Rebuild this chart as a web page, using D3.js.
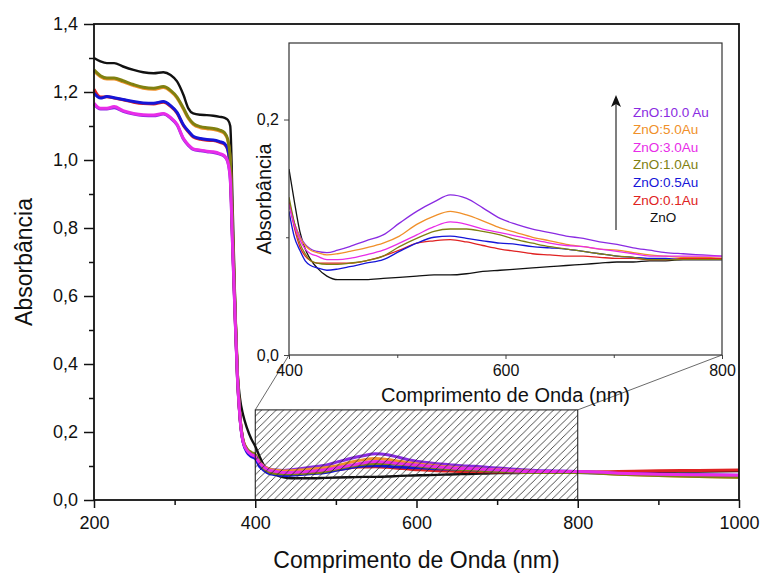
<!DOCTYPE html>
<html>
<head>
<meta charset="utf-8">
<script src="https://cdn.jsdelivr.net/npm/d3@7"></script>
<style>
  body { margin: 0; background: #fff; }
  text { font-family: "Liberation Sans", Arial, sans-serif; fill: #111; }
</style>
</head>
<body>
<svg id="chart" width="761" height="574"></svg>
<script>
// wavelength grid (nm)
const wl = [200, 208, 216, 225, 236, 249, 261, 274, 286, 295, 303, 311, 317, 323, 332, 340, 348, 356, 362, 366,
  369, 372, 375, 378, 381, 385, 390, 395, 400, 405, 410, 415, 420, 426, 435, 445, 456, 471, 487, 502,
  518, 534, 549, 564, 579, 595, 610, 625, 641, 656, 672, 687, 703, 718, 733, 748, 764, 782, 800, 850,
  900, 950, 1000];

// absorbance per sample
const zno = [1.300, 1.290, 1.285, 1.285, 1.275, 1.265, 1.258, 1.255, 1.258, 1.250, 1.231, 1.191, 1.152, 1.137, 1.133, 1.132, 1.130, 1.127, 1.124, 1.118,
  1.100, 0.860, 0.590, 0.380, 0.300, 0.250, 0.210, 0.180, 0.158, 0.130, 0.105, 0.090, 0.081, 0.074, 0.067, 0.064, 0.064, 0.064, 0.065, 0.066,
  0.067, 0.068, 0.068, 0.069, 0.071, 0.072, 0.073, 0.074, 0.075, 0.076, 0.077, 0.078, 0.079, 0.079, 0.080, 0.080, 0.081, 0.081, 0.081, 0.082,
  0.083, 0.084, 0.085];
const au01 = [1.208, 1.185, 1.186, 1.182, 1.177, 1.170, 1.166, 1.165, 1.170, 1.158, 1.138, 1.101, 1.083, 1.068, 1.061, 1.058, 1.057, 1.052, 1.046, 1.028,
  0.970, 0.755, 0.545, 0.358, 0.245, 0.172, 0.145, 0.135, 0.130, 0.108, 0.092, 0.084, 0.080, 0.078, 0.078, 0.078, 0.078, 0.080, 0.084, 0.089,
  0.095, 0.097, 0.098, 0.096, 0.093, 0.090, 0.088, 0.086, 0.085, 0.084, 0.084, 0.083, 0.082, 0.082, 0.081, 0.081, 0.082, 0.082, 0.082, 0.084,
  0.086, 0.087, 0.088];
const au05 = [1.196, 1.182, 1.187, 1.183, 1.178, 1.172, 1.168, 1.167, 1.172, 1.160, 1.140, 1.103, 1.085, 1.070, 1.063, 1.060, 1.059, 1.054, 1.048, 1.030,
  0.975, 0.760, 0.550, 0.360, 0.245, 0.170, 0.140, 0.128, 0.122, 0.100, 0.089, 0.080, 0.076, 0.074, 0.072, 0.073, 0.075, 0.078, 0.081, 0.088,
  0.095, 0.100, 0.101, 0.099, 0.097, 0.095, 0.094, 0.092, 0.091, 0.090, 0.088, 0.086, 0.084, 0.083, 0.082, 0.082, 0.081, 0.081, 0.081, 0.078,
  0.075, 0.073, 0.072];
const au10 = [1.265, 1.248, 1.241, 1.241, 1.233, 1.222, 1.214, 1.211, 1.216, 1.205, 1.185, 1.152, 1.125, 1.108, 1.098, 1.095, 1.093, 1.088, 1.080, 1.060,
  1.000, 0.780, 0.560, 0.370, 0.250, 0.175, 0.150, 0.140, 0.134, 0.112, 0.095, 0.086, 0.080, 0.078, 0.077, 0.077, 0.078, 0.080, 0.084, 0.092,
  0.099, 0.105, 0.107, 0.107, 0.105, 0.102, 0.098, 0.095, 0.092, 0.090, 0.088, 0.086, 0.084, 0.083, 0.081, 0.081, 0.081, 0.081, 0.081, 0.076,
  0.072, 0.069, 0.067];
const au30 = [1.167, 1.152, 1.152, 1.157, 1.145, 1.137, 1.133, 1.132, 1.137, 1.125, 1.105, 1.063, 1.045, 1.033, 1.029, 1.026, 1.024, 1.019, 1.012, 0.995,
  0.945, 0.740, 0.540, 0.355, 0.243, 0.170, 0.145, 0.134, 0.128, 0.110, 0.098, 0.090, 0.086, 0.084, 0.081, 0.081, 0.082, 0.085, 0.089, 0.095,
  0.102, 0.109, 0.113, 0.111, 0.107, 0.104, 0.101, 0.098, 0.095, 0.093, 0.092, 0.090, 0.088, 0.086, 0.084, 0.084, 0.084, 0.084, 0.084, 0.079,
  0.076, 0.074, 0.073];
const au50 = [1.262, 1.245, 1.238, 1.238, 1.230, 1.219, 1.211, 1.208, 1.213, 1.202, 1.182, 1.149, 1.122, 1.105, 1.095, 1.092, 1.090, 1.085, 1.077, 1.057,
  0.995, 0.775, 0.555, 0.365, 0.248, 0.175, 0.148, 0.137, 0.131, 0.112, 0.100, 0.093, 0.089, 0.087, 0.085, 0.086, 0.088, 0.091, 0.095, 0.101,
  0.111, 0.118, 0.122, 0.119, 0.114, 0.108, 0.104, 0.100, 0.097, 0.094, 0.092, 0.090, 0.089, 0.087, 0.085, 0.084, 0.083, 0.083, 0.082, 0.076,
  0.072, 0.069, 0.067];
const au100 = [1.164, 1.150, 1.150, 1.154, 1.143, 1.135, 1.131, 1.130, 1.135, 1.123, 1.103, 1.061, 1.043, 1.031, 1.027, 1.024, 1.022, 1.017, 1.010, 0.993,
  0.942, 0.738, 0.538, 0.354, 0.243, 0.170, 0.146, 0.134, 0.128, 0.112, 0.101, 0.094, 0.090, 0.088, 0.087, 0.089, 0.092, 0.097, 0.102, 0.112,
  0.122, 0.130, 0.136, 0.133, 0.125, 0.116, 0.111, 0.107, 0.104, 0.101, 0.099, 0.096, 0.094, 0.091, 0.089, 0.087, 0.086, 0.085, 0.084, 0.079,
  0.076, 0.074, 0.073];

// legend, top to bottom
const legendLabels = ["ZnO:10.0 Au", "ZnO:5.0Au", "ZnO:3.0Au", "ZnO:1.0Au", "ZnO:0.5Au", "ZnO:0.1Au", "ZnO"];
const legendColors = ["#8a2be2", "#f0902a", "#e82ce8", "#808010", "#1515d8", "#e02222", "#111111"];
const legendSeries = [au100, au50, au30, au10, au05, au01, zno];

// draw order (last on top)
const drawOrder = [6, 0, 1, 5, 4, 3, 2];

const mainYTicks = [0, 0.2, 0.4, 0.6, 0.8, 1.0, 1.2, 1.4];
const mainXTicks = [200, 400, 600, 800, 1000];
const insetYTicks = [0, 0.2];
const insetXTicks = [400, 600, 800];
const zoomBox = { x0: 400, x1: 800, y1: 0.265 };

const fmt = v => d3.format(".1f")(v).replace(".", ",");

const svg = d3.select("#chart");

// MAIN SCALES
const x = d3.scaleLinear().domain([200, 1000]).range([94, 739]);
const y = d3.scaleLinear().domain([0, 1.4]).range([500, 24]);

// main curves
const mainLine = d3.line()
  .x((d, i) => x(wl[i]))
  .y(d => y(d))
  .curve(d3.curveMonotoneX);

drawOrder.forEach(k => {
  svg.append("path")
    .datum(legendSeries[k])
    .attr("fill", "none")
    .attr("stroke", legendColors[k])
    .attr("stroke-width", k === 6 ? 2.4 : 3)
    .attr("stroke-linejoin", "round")
    .attr("d", mainLine);
});

// hatched zoom region
const defs = svg.append("defs");
defs.append("pattern")
  .attr("id", "hatch")
  .attr("patternUnits", "userSpaceOnUse")
  .attr("width", 7.3).attr("height", 7.3)
  .append("path")
    .attr("d", "M0,7.3 L7.3,0 M-1,1 L1,-1 M6.3,8.3 L8.3,6.3")
    .attr("stroke", "#222")
    .attr("stroke-width", 0.8);

svg.append("rect")
  .attr("x", x(zoomBox.x0))
  .attr("y", y(zoomBox.y1))
  .attr("width", x(zoomBox.x1) - x(zoomBox.x0))
  .attr("height", y(0) - y(zoomBox.y1))
  .attr("fill", "url(#hatch)")
  .attr("stroke", "#111")
  .attr("stroke-width", 1);

// MAIN AXES
const styleAxis = g => {
  g.select(".domain").remove();
  g.selectAll("line").attr("stroke", "#111").attr("stroke-width", 1.5);
  g.selectAll("text").attr("font-size", 18).style("font-family", "Liberation Sans, Arial, sans-serif").attr("fill", "#111");
};

svg.append("g")
  .attr("transform", `translate(0,${y(0)})`)
  .call(d3.axisBottom(x).tickValues([300, 500, 700, 900]).tickSize(5).tickFormat(""))
  .call(styleAxis);
svg.append("g")
  .attr("transform", `translate(0,${y(0)})`)
  .call(d3.axisBottom(x).tickValues(mainXTicks).tickSize(8).tickPadding(8).tickFormat(d3.format("d")))
  .call(styleAxis);

svg.append("g")
  .attr("transform", `translate(${x(200)},0)`)
  .call(d3.axisLeft(y).tickValues([0.1, 0.3, 0.5, 0.7, 0.9, 1.1, 1.3]).tickSize(5).tickFormat(""))
  .call(styleAxis);
svg.append("g")
  .attr("transform", `translate(${x(200)},0)`)
  .call(d3.axisLeft(y).tickValues(mainYTicks).tickSize(10).tickPadding(6).tickFormat(fmt))
  .call(styleAxis);

// frame
svg.append("rect")
  .attr("x", x(200)).attr("y", y(1.4))
  .attr("width", x(1000) - x(200)).attr("height", y(0) - y(1.4))
  .attr("fill", "none")
  .attr("stroke", "#111")
  .attr("stroke-width", 1.8);

// AXIS LABELS
svg.append("text")
  .attr("x", (x(200) + x(1000)) / 2)
  .attr("y", 568)
  .attr("text-anchor", "middle")
  .attr("font-size", 23)
  .text("Comprimento de Onda (nm)");

svg.append("text")
  .attr("transform", `translate(32,${(y(0) + y(1.4)) / 2}) rotate(-90)`)
  .attr("text-anchor", "middle")
  .attr("font-size", 23)
  .text("Absorbância");

// INSET
const xi = d3.scaleLinear().domain([zoomBox.x0, zoomBox.x1]).range([289, 722]);
const yi = d3.scaleLinear().domain([0, zoomBox.y1]).range([355, 43]);

// connector lines
svg.append("line")
  .attr("x1", x(zoomBox.x0)).attr("y1", y(zoomBox.y1))
  .attr("x2", xi(zoomBox.x0)).attr("y2", yi(0))
  .attr("stroke", "#444").attr("stroke-width", 0.8);
svg.append("line")
  .attr("x1", x(zoomBox.x1)).attr("y1", y(zoomBox.y1))
  .attr("x2", xi(zoomBox.x1)).attr("y2", yi(0))
  .attr("stroke", "#444").attr("stroke-width", 0.8);

svg.append("rect")
  .attr("x", xi(zoomBox.x0)).attr("y", yi(zoomBox.y1))
  .attr("width", xi(zoomBox.x1) - xi(zoomBox.x0))
  .attr("height", yi(0) - yi(zoomBox.y1))
  .attr("fill", "#fff");

svg.append("clipPath").attr("id", "insetClip")
  .append("rect")
  .attr("x", xi(zoomBox.x0)).attr("y", yi(zoomBox.y1))
  .attr("width", xi(zoomBox.x1) - xi(zoomBox.x0))
  .attr("height", yi(0) - yi(zoomBox.y1));

const insetIdx = wl.map((w, i) => i).filter(i => wl[i] >= zoomBox.x0 && wl[i] <= zoomBox.x1);
const insetLine = d3.line()
  .x(i => xi(wl[i]))
  .curve(d3.curveMonotoneX);

const insetG = svg.append("g").attr("clip-path", "url(#insetClip)");
drawOrder.forEach(k => {
  insetG.append("path")
    .datum(insetIdx)
    .attr("fill", "none")
    .attr("stroke", legendColors[k])
    .attr("stroke-width", 1.3)
    .attr("d", insetLine.y(i => yi(legendSeries[k][i])));
});

const styleInset = g => {
  g.select(".domain").remove();
  g.selectAll("line").attr("stroke", "#444").attr("stroke-width", 1);
  g.selectAll("text").attr("font-size", 16).style("font-family", "Liberation Sans, Arial, sans-serif").attr("fill", "#111");
};

svg.append("g")
  .attr("transform", `translate(0,${yi(0)})`)
  .call(d3.axisBottom(xi).tickValues([500, 700]).tickSize(3).tickFormat(""))
  .call(styleInset);
svg.append("g")
  .attr("transform", `translate(0,${yi(0)})`)
  .call(d3.axisBottom(xi).tickValues(insetXTicks).tickSize(4).tickPadding(6).tickFormat(d3.format("d")))
  .call(styleInset);
svg.append("g")
  .attr("transform", `translate(${xi(zoomBox.x0)},0)`)
  .call(d3.axisLeft(yi).tickValues([0.1]).tickSize(3).tickFormat(""))
  .call(styleInset);
svg.append("g")
  .attr("transform", `translate(${xi(zoomBox.x0)},0)`)
  .call(d3.axisLeft(yi).tickValues(insetYTicks).tickSize(5).tickPadding(5).tickFormat(fmt))
  .call(styleInset);

svg.append("rect")
  .attr("x", xi(zoomBox.x0)).attr("y", yi(zoomBox.y1))
  .attr("width", xi(zoomBox.x1) - xi(zoomBox.x0))
  .attr("height", yi(0) - yi(zoomBox.y1))
  .attr("fill", "none")
  .attr("stroke", "#333")
  .attr("stroke-width", 1.2);

svg.append("text")
  .attr("x", (xi(zoomBox.x0) + xi(zoomBox.x1)) / 2)
  .attr("y", 402)
  .attr("text-anchor", "middle")
  .attr("font-size", 20)
  .text("Comprimento de Onda (nm)");

svg.append("text")
  .attr("transform", `translate(271,${(yi(0) + yi(zoomBox.y1)) / 2}) rotate(-90)`)
  .attr("text-anchor", "middle")
  .attr("font-size", 20)
  .text("Absorbância");

// LEGEND
const legend = svg.append("g").attr("transform", "translate(633,116.5)");
legend.selectAll("text")
  .data(legendLabels)
  .enter()
  .append("text")
    .attr("x", (d, i) => i === legendLabels.length - 1 ? 17 : 0)
    .attr("y", (d, i) => i * 17.6)
    .attr("font-size", 13.5)
    .style("fill", (d, i) => legendColors[i])
    .text(d => d);

defs.append("marker")
  .attr("id", "arrowHead")
  .attr("viewBox", "0 0 10 12")
  .attr("refX", 5).attr("refY", 2)
  .attr("markerUnits", "userSpaceOnUse")
  .attr("markerWidth", 10).attr("markerHeight", 12)
  .attr("orient", "auto-start-reverse")
  .append("path")
    .attr("d", "M5,0 L10,12 L5,9 L0,12 Z")
    .attr("fill", "#111");

svg.append("line")
  .attr("x1", 616).attr("y1", 230)
  .attr("x2", 616).attr("y2", 98)
  .attr("stroke", "#555")
  .attr("stroke-width", 1.5);
svg.append("path")
  .attr("d", "M616,95 L621,107 L616,104 L611,107 Z")
  .attr("fill", "#111");
</script>
</body>
</html>
